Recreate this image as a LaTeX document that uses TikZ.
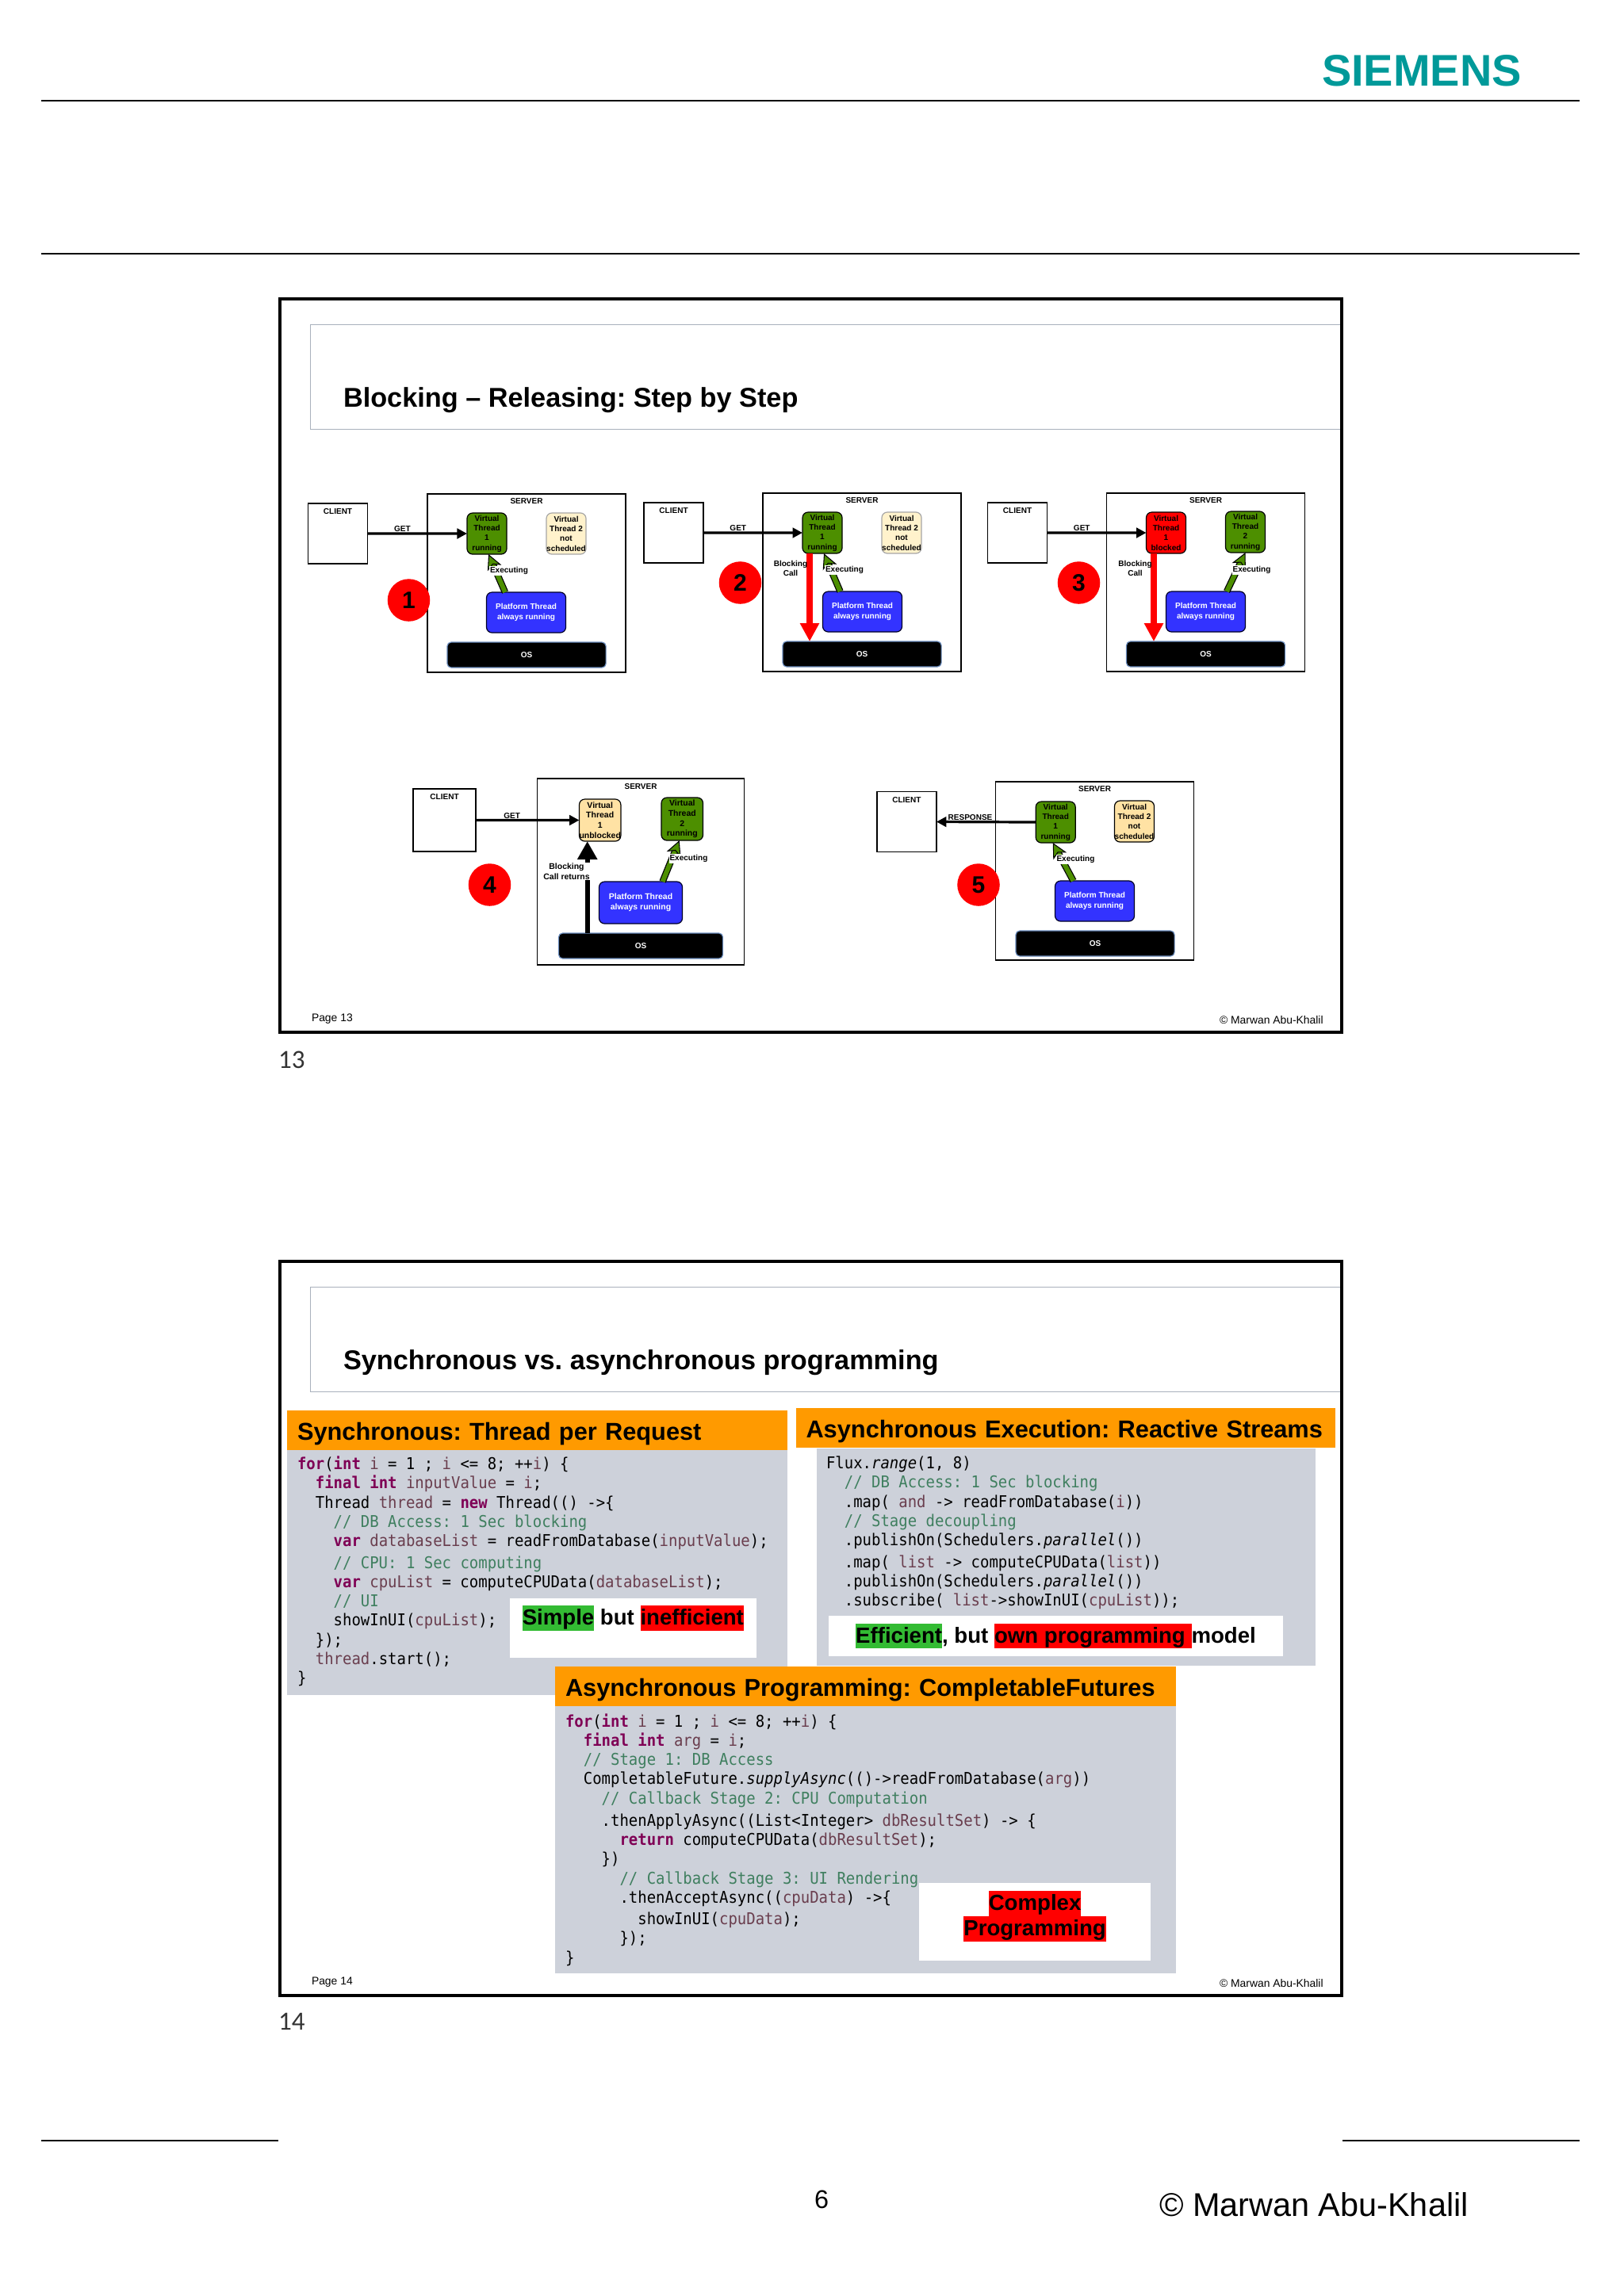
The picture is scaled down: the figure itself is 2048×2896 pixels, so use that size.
\documentclass[tikz,border=0pt]{standalone}
\usepackage{fontspec}
\setmainfont{Liberation Sans}
\setmonofont[FakeStretch=0.925]{DejaVu Sans Mono}
\newfontfamily\pagenofont{Carlito}
\usepackage{xcolor}
\usepackage{tikz}
\usetikzlibrary{arrows.meta, positioning}

\definecolor{sietal}{HTML}{009999}
\definecolor{rulegray}{HTML}{A9B1BC}
\definecolor{vgreen}{HTML}{4D8F00}
\definecolor{vcream}{HTML}{FFF2CC}
\definecolor{vtan}{HTML}{FFE2A4}
\definecolor{platblue}{HTML}{3333FF}
\definecolor{osedge}{HTML}{6C8EBF}
\definecolor{headorange}{HTML}{FF9A00}
\definecolor{codegray}{HTML}{CDD1DA}
\definecolor{hlgreen}{HTML}{33BB33}
\definecolor{kwcolor}{HTML}{7F0055}
\definecolor{vrcolor}{HTML}{6A3E4E}
\definecolor{cmcolor}{HTML}{3F7F5F}

\newcommand{\tagfont}{\fontsize{2.85}{3.5}\selectfont}
\newcommand{\kwd}[1]{\textcolor{kwcolor}{\textbf{#1}}}
\newcommand{\vnm}[1]{\textcolor{vrcolor}{#1}}
\newcommand{\cmt}[1]{\textcolor{cmcolor}{#1}}
\newcommand{\hlgood}[1]{{\setlength{\fboxsep}{0pt}\colorbox{hlgreen}{\rule[-0.25em]{0pt}{1.15em}#1}}}
\newcommand{\hlbad}[1]{{\setlength{\fboxsep}{0pt}\colorbox{red}{\rule[-0.25em]{0pt}{1.15em}#1}}}

\begin{document}
\frenchspacing
\begin{tikzpicture}[
  x=0.01cm, y=-0.01cm,
  every node/.style={inner sep=0pt, outer sep=0pt},
  pageline/.style={line width=0.02cm},
  slideframe/.style={draw, line width=0.04cm, anchor=north west, minimum width=13.38cm, minimum height=9.25cm},
  titlebox/.style={draw=rulegray, line width=0.015cm, anchor=north west, minimum width=13.0cm, minimum height=1.32cm},
  slidetitle/.style={anchor=base west, font=\fontsize{9.75}{11}\selectfont\bfseries},
  footer/.style={anchor=base west, font=\fontsize{3.95}{4.5}\selectfont},
  pageno/.style={anchor=base west, text=black!80, font=\pagenofont\fontsize{9.4}{11}\selectfont},
  client/.style={draw, line width=0.015cm, anchor=north west, minimum width=0.75cm, minimum height=0.76cm},
  server/.style={draw, line width=0.015cm, anchor=north west, minimum width=2.50cm, minimum height=2.25cm},
  tag/.style={font=\tagfont\bfseries, align=center},
  tagbig/.style={font=\fontsize{2.98}{3.6}\selectfont\bfseries},
  vthread/.style={tag, draw, line width=0.012cm, rounded corners=0.07cm, anchor=north west, minimum width=0.50cm, minimum height=0.52cm},
  vrun/.style={vthread, fill=vgreen},
  vidle/.style={vthread, fill=vcream, draw=black!35},
  vwait/.style={vthread, fill=vtan},
  vstop/.style={vthread, fill=red},
  platform/.style={tag, draw=black!85!blue, line width=0.012cm, fill=platblue, text=white, rounded corners=0.07cm, anchor=north west, minimum width=1.00cm, minimum height=0.51cm},
  osbox/.style={tag, draw=osedge, line width=0.012cm, fill=black, text=white, rounded corners=0.05cm, anchor=north west, minimum width=2.00cm, minimum height=0.32cm},
  stepno/.style={circle, fill=red, minimum size=0.535cm, font=\fontsize{8.54}{10}\selectfont\bfseries},
  reqarr/.style={-{Triangle[length=0.125cm,width=0.125cm]}, line width=0.032cm},
  blockarr/.style={-{Triangle[length=0.23cm,width=0.23cm]}, red, line width=0.075cm},
  backarr/.style={-{Triangle[length=0.23cm,width=0.24cm]}, line width=0.06cm},
  execarr/.style={-{Stealth[length=0.19cm,width=0.19cm,inset=0.05cm,fill=vgreen,color=black,line width=0.3pt]}, draw=vgreen, line width=0.06cm,
    preaction={draw=black, arrows=-, line width=0.085cm, shorten >=0.13cm}},
  execlabel/.style={tag, fill=white, inner sep=0.3pt},
  blocklabel/.style={tag},
  headbar/.style={fill=headorange, anchor=north west, inner xsep=0.13cm, align=left, text height=0.25cm, text depth=0cm, minimum height=0.5cm, font=\fontsize{8.75}{10}\selectfont\bfseries},
  codebox/.style={fill=codegray, anchor=north west},
  code/.style={anchor=north west, align=left, font=\ttfamily\fontsize{5.83}{6.9}\selectfont},
  notebox/.style={fill=white, anchor=north west},
  notetext/.style={align=center, font=\fontsize{7.85}{9.05}\selectfont\bfseries}
]
\useasboundingbox (0,0) rectangle (2048,2896);

% page furniture
\coordinate (tl1) at (52,127);   \coordinate (tr1) at (1992,127);
\coordinate (tl2) at (52,320);   \coordinate (tr2) at (1992,320);
\coordinate (bl1) at (52,2700);  \coordinate (bl2) at (351,2700);
\coordinate (br1) at (1693,2700); \coordinate (br2) at (1992,2700);
\draw[pageline] (tl1) -- (tr1);
\draw[pageline] (tl2) -- (tr2);
\draw[pageline] (bl1) -- (bl2);
\draw[pageline] (br1) -- (br2);
\node[anchor=base west, text=sietal, font=\fontsize{15.9}{18}\selectfont\bfseries] (logo) at (1667,108) {SIEMENS};
\node[anchor=base, font=\fontsize{9.2}{11}\selectfont] (sheetno) at (1036,2785) {6};
\node[anchor=base west, font=\fontsize{11.78}{14}\selectfont] (owner) at (1462,2795) {© Marwan Abu-Khalil};

% slide 13
\node[titlebox] (tbox1) at (391.5,409.5) {};
\node[slideframe] (slide1) at (353,376.5) {};
\node[slidetitle] (title1) at (433,513) {Blocking – Releasing: Step by Step};
\node[footer] (page1) at (393,1288) {Page 13};
\node[footer] (copy1) at (1538,1291) {© Marwan Abu-Khalil};
\node[pageno] (no1) at (351,1347) {13};

% step 1
\node[client] (c1) at (388.5,635) {};
\node[tag,below=0.065cm of c1.north] (c1t) {CLIENT};
\node[server] (s1) at (539,623) {};
\node[tag,below=0.055cm of s1.north] (s1t) {SERVER};
\node[vrun] (v1a) at (589,647) {Virtual\\Thread\\1\\running};
\node[vidle] (v1b) at (689,647) {Virtual\\Thread 2\\not\\scheduled};
\node[platform] (p1) at (613.5,747) {Platform Thread\\always running};
\node[osbox] (os1) at (564,810) {OS};
\draw[reqarr] (c1.east) -- node[tag,above=0.02cm,pos=0.35] (g1) {GET} (v1a.west);
\draw[execarr] ([xshift=-0.265cm]p1.north) -- ([xshift=0.02cm]v1a.south);
\node[execlabel] (e1) at (642,720) {Executing};
\node[stepno] (n1) at (515.5,757) {1};

% step 2
\node[client] (c2) at (812,634) {};
\node[tag,below=0.065cm of c2.north] (c2t) {CLIENT};
\node[server] (s2) at (962,622) {};
\node[tag,below=0.055cm of s2.north] (s2t) {SERVER};
\node[vrun] (v2a) at (1012,646) {Virtual\\Thread\\1\\running};
\node[vidle] (v2b) at (1112,646) {Virtual\\Thread 2\\not\\scheduled};
\node[platform] (p2) at (1037.5,746) {Platform Thread\\always running};
\node[osbox] (os2) at (987,809) {OS};
\draw[reqarr] (c2.east) -- node[tag,above=0.02cm,pos=0.35] (g2) {GET} (v2a.west);
\draw[execarr] ([xshift=-0.28cm]p2.north) -- ([xshift=0.02cm]v2a.south);
\node[execlabel] (e2) at (1065,719) {Executing};
\draw[blockarr] ([xshift=-0.16cm]v2a.south) -- ([xshift=-0.16cm]v2a.south |- os2.north);
\node[blocklabel] (b2) at (997,717) {Blocking\\Call};
\node[stepno] (n2) at (933.5,735) {2};

% step 3
\node[client] (c3) at (1245.5,634) {};
\node[tag,below=0.065cm of c3.north] (c3t) {CLIENT};
\node[server] (s3) at (1395.5,622) {};
\node[tag,below=0.055cm of s3.north] (s3t) {SERVER};
\node[vstop] (v3a) at (1445.5,646) {Virtual\\Thread\\1\\blocked};
\node[vrun] (v3b) at (1545.5,645) {Virtual\\Thread\\2\\running};
\node[platform] (p3) at (1470.5,746) {Platform Thread\\always running};
\node[osbox] (os3) at (1420.5,809) {OS};
\draw[reqarr] (c3.east) -- node[tag,above=0.02cm,pos=0.35] (g3) {GET} (v3a.west);
\draw[execarr] ([xshift=0.265cm]p3.north) -- (v3b.south);
\node[execlabel] (e3) at (1578.5,719) {Executing};
\draw[blockarr] ([xshift=-0.155cm]v3a.south) -- ([xshift=-0.155cm]v3a.south |- os3.north);
\node[blocklabel] (b3) at (1431.5,717) {Blocking\\Call};
\node[stepno] (n3) at (1360.5,735) {3};

% step 4
\node[client,minimum width=0.79cm,minimum height=0.79cm] (c4) at (521,995) {};
\node[tag,below=0.065cm of c4.north] (c4t) {CLIENT};
\node[server,minimum width=2.61cm,minimum height=2.35cm] (s4) at (677.5,982) {};
\node[tag,below=0.06cm of s4.north] (s4t) {SERVER};
\node[vwait,tagbig,minimum width=0.52cm,minimum height=0.53cm] (v4a) at (730.5,1008) {Virtual\\Thread\\1\\unblocked};
\node[vrun,tagbig,minimum width=0.525cm,minimum height=0.54cm] (v4b) at (834,1006) {Virtual\\Thread\\2\\running};
\node[platform,tagbig,minimum width=1.05cm,minimum height=0.53cm] (p4) at (755.5,1112) {Platform Thread\\always running};
\node[osbox,minimum width=2.07cm] (os4) at (704.5,1177) {OS};
\draw[reqarr] (c4.east) -- node[tag,above=0.02cm,pos=0.35] (g4) {GET} (v4a.west);
\draw[execarr] ([xshift=0.275cm]p4.north) -- ([xshift=-0.035cm]v4b.south);
\node[execlabel] (e4) at (868.5,1083) {Executing};
\draw[backarr] ([xshift=-0.16cm]v4a.south |- os4.north) -- ([xshift=-0.16cm]v4a.south);
\node[execlabel,tagbig] (b4) at (714.5,1099) {Blocking\\Call returns};
\node[stepno] (n4) at (617.5,1116) {4};

% step 5
\node[client] (c5) at (1105.9,998.5) {};
\node[tag,below=0.065cm of c5.north] (c5t) {CLIENT};
\node[server] (s5) at (1255.5,986) {};
\node[tag,below=0.055cm of s5.north] (s5t) {SERVER};
\node[vrun] (v5a) at (1306.2,1011) {Virtual\\Thread\\1\\running};
\node[vwait] (v5b) at (1405.5,1010) {Virtual\\Thread 2\\not\\scheduled};
\node[platform] (p5) at (1330.5,1111) {Platform Thread\\always running};
\node[osbox] (os5) at (1281,1174) {OS};
\draw[reqarr] (v5a.west) -- node[tag,above=0.02cm,pos=0.66] (g5) {RESPONSE} (c5.east);
\draw[execarr] ([xshift=-0.27cm]p5.north) -- ([xshift=-0.035cm]v5a.south);
\node[execlabel] (e5) at (1356.5,1084) {Executing};
\node[stepno] (n5) at (1234,1116) {5};

% slide 14
\node[titlebox] (tbox2) at (391.5,1623.5) {};
\node[slideframe] (slide2) at (353,1591) {};
\node[slidetitle] (title2) at (433,1727) {Synchronous vs. asynchronous programming};
\node[footer] (page2) at (393,2503) {Page 14};
\node[footer] (copy2) at (1538,2506) {© Marwan Abu-Khalil};
\node[pageno] (no2) at (351,2560) {14};

\node[codebox,minimum width=6.31cm,minimum height=3.09cm] (body1) at (362,1829) {};
\node[headbar,text width=6.05cm] (head1) at (362,1779) {Synchronous: Thread per Request};
\node[code] (code1) at (375,1837) {\kwd{for}(\kwd{int} \vnm{i} = 1 ; \vnm{i} <= 8; ++\vnm{i}) \{\\
\phantom{xx}\kwd{final} \kwd{int} \vnm{inputValue} = \vnm{i};\\
\phantom{xx}Thread \vnm{thread} = \kwd{new} Thread(() ->\{\\
\phantom{xxxx}\cmt{// DB Access: 1 Sec blocking}\\
\phantom{xxxx}\kwd{var} \vnm{databaseList} = readFromDatabase(\vnm{inputValue});\\[0.85pt]
\phantom{xxxx}\cmt{// CPU: 1 Sec computing}\\
\phantom{xxxx}\kwd{var} \vnm{cpuList} = computeCPUData(\vnm{databaseList});\\
\phantom{xxxx}\cmt{// UI}\\
\phantom{xxxx}showInUI(\vnm{cpuList});\\
\phantom{xx}\});\\
\phantom{xx}\vnm{thread}.start();\\
\}};
\node[notebox,minimum width=3.115cm,minimum height=0.75cm] (note1) at (642.5,2016) {};
\node[notetext,below=0.09cm of note1.north] (text1) {\hlgood{Simple} but \hlbad{inefficient}};

\node[codebox,minimum width=6.295cm,minimum height=2.74cm] (body2) at (1029.5,1827) {};
\node[headbar,text width=6.545cm] (head2) at (1003.5,1776) {Asynchronous Execution: Reactive Streams};
\node[code] (code2) at (1042,1837) {Flux.\textit{range}(1, 8)\\
\phantom{xx}\cmt{// DB Access: 1 Sec blocking}\\
\phantom{xx}.map( \vnm{and} -> readFromDatabase(\vnm{i}))\\
\phantom{xx}\cmt{// Stage decoupling}\\
\phantom{xx}.publishOn(Schedulers.\textit{parallel}())\\[0.85pt]
\phantom{xx}.map( \vnm{list} -> computeCPUData(\vnm{list}))\\
\phantom{xx}.publishOn(Schedulers.\textit{parallel}())\\
\phantom{xx}.subscribe( \vnm{list}->showInUI(\vnm{cpuList}));};
\node[notebox,minimum width=5.735cm,minimum height=0.51cm] (note2) at (1044.6,2038) {};
\node[notetext] (text2) at (note2) {\hlgood{Efficient}, but \hlbad{own programming\ }model};

\node[codebox,minimum width=7.83cm,minimum height=3.37cm] (body3) at (700,2152) {};
\node[headbar,text width=7.57cm] (head3) at (700,2102) {Asynchronous Programming: CompletableFutures};
\node[code] (code3) at (713,2161.5) {\kwd{for}(\kwd{int} \vnm{i} = 1 ; \vnm{i} <= 8; ++\vnm{i}) \{\\
\phantom{xx}\kwd{final} \kwd{int} \vnm{arg} = \vnm{i};\\
\phantom{xx}\cmt{// Stage 1: DB Access}\\
\phantom{xx}CompletableFuture.\textit{supplyAsync}(()->readFromDatabase(\vnm{arg}))\\
\phantom{xxxx}\cmt{// Callback Stage 2: CPU Computation}\\[1.1pt]
\phantom{xxxx}.thenApplyAsync((List<Integer> \vnm{dbResultSet}) -> \{\\
\phantom{xxxxxx}\kwd{return} computeCPUData(\vnm{dbResultSet});\\
\phantom{xxxx}\})\\
\phantom{xxxxxx}\cmt{// Callback Stage 3: UI Rendering}\\
\phantom{xxxxxx}.thenAcceptAsync((\vnm{cpuData}) ->\{\\[0.85pt]
\phantom{xxxxxxxx}showInUI(\vnm{cpuData});\\
\phantom{xxxxxx}\});\\
\}};
\node[notebox,minimum width=2.92cm,minimum height=0.98cm] (note3) at (1159,2375) {};
\node[notetext,below=0.10cm of note3.north] (text3) {\hlbad{Complex}\\\hlbad{Programming}};

\end{tikzpicture}
\end{document}
